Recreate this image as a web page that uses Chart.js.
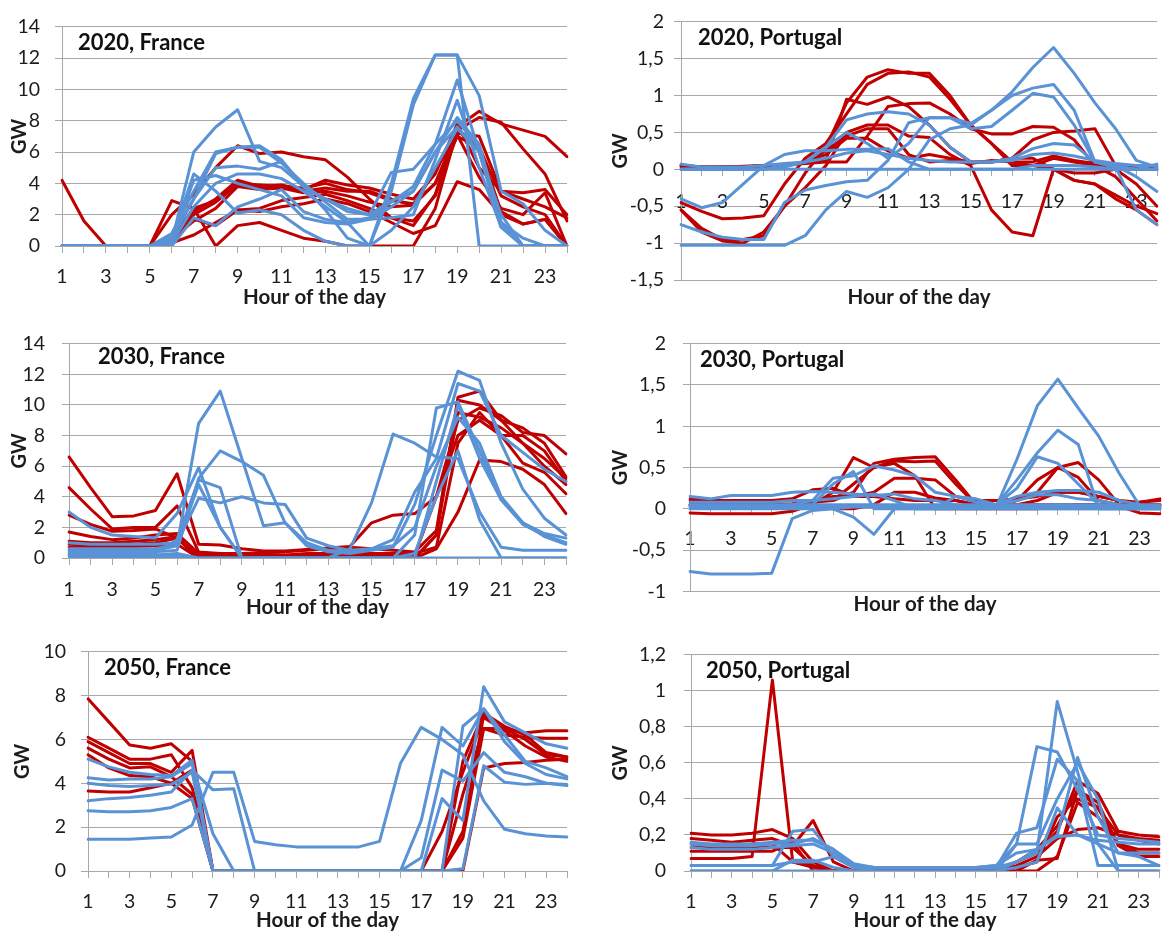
<!DOCTYPE html>
<html><head><meta charset="utf-8">
<script src="https://cdn.jsdelivr.net/npm/chart.js@4.4.1/dist/chart.umd.min.js"></script>
<style>
html,body{margin:0;padding:0;background:#fff;width:1172px;height:933px;overflow:hidden;position:relative;}
canvas{position:absolute;}
</style></head><body>
<script>
const hours = [1,2,3,4,5,6,7,8,9,10,11,12,13,14,15,16,17,18,19,20,21,22,23,24];

const fr2020Red = [
 [4.2,1.6,0,0,0,0.6, 2.2,3.0,4.2,3.8,3.9,3.6, 4.2,3.9,3.7,3.3,3.0,4.6, 7.8,5.0,3.5,3.4,3.6,2.0],
 [0,0,0,0,0,0.3, 2.0,2.8,3.9,3.7,3.8,3.7, 4.0,3.6,3.4,2.9,2.7,4.0, 7.4,6.3,3.2,2.5,2.0,0],
 [0,0,0,0,0,0.2, 0.7,1.5,2.3,2.4,2.9,3.1, 3.3,2.9,2.4,1.8,1.6,3.2, 7.1,4.4,2.4,2.0,3.4,0],
 [0,0,0,0,0,2.0, 3.3,5.0,6.4,5.9,6.0,5.7, 5.5,4.4,3.0,1.8,1.3,3.3, 7.6,8.6,7.8,7.4,7.0,5.7],
 [0,0,0,0,0,2.9, 2.4,0,1.3,1.5,1.0,0.5, 0.3,0,0,0,0,2.4, 7.4,8.2,7.9,6.2,4.6,1.6],
 [0,0,0,0,0,0.4, 1.6,2.4,3.8,3.6,3.7,3.4, 3.5,3.2,2.8,2.5,2.6,4.0, 7.0,6.3,2.2,1.4,1.7,0],
 [0,0,0,0,0,0.3, 1.7,1.3,2.3,2.2,2.5,2.7, 3.0,2.7,2.2,1.5,0.8,1.3, 4.1,3.6,2.0,1.4,1.7,0],
 [0,0,0,0,0,0.5, 2.4,2.9,4.0,3.9,3.8,3.5, 3.7,3.5,3.5,3.0,2.6,4.8, 7.2,7.0,3.5,3.0,2.5,1.8]
];
const fr2020Blue = [
 [0,0,0,0,0,0.3, 6.0,7.6,8.7,5.4,5.0,3.8, 3.0,2.2,2.0,4.7,4.9,6.5, 8.0,6.3,1.5,0,0,0],
 [0,0,0,0,0,0.5, 4.6,3.5,2.1,2.3,2.0,1.0, 0.3,0,0,1.0,2.5,5.0, 7.5,6.0,1.2,0,0,0],
 [0,0,0,0,0,0.8, 3.5,6.0,6.3,6.4,5.5,3.8, 3.0,2.4,2.0,2.9,3.5,6.0, 8.2,6.5,1.5,0,0,0],
 [0,0,0,0,0,0.5, 3.0,5.0,5.1,4.9,5.4,3.8, 2.3,0.5,0,4.0,9.4,12.2, 12.2,9.6,3.5,2.7,1.0,0],
 [0,0,0,0,0,0.2, 2.5,4.0,4.6,4.6,4.3,3.5, 2.5,1.5,0,3.5,9.0,12.2, 12.2,0,0,0,0,0],
 [0,0,0,0,0,0, 1.8,1.3,2.5,3.0,3.6,2.2, 1.7,1.5,1.8,2.8,3.8,6.5, 10.6,6.0,2.0,0,0,0],
 [0,0,0,0,0,0.3, 4.2,4.5,4.0,3.6,3.2,1.8, 1.5,1.4,1.7,1.8,2.0,5.5, 9.3,5.0,1.2,0,0,0],
 [0,0,0,0,0,0.6, 3.0,5.9,6.3,6.3,5.3,4.0, 2.8,1.7,1.7,2.5,3.5,6.0, 7.6,6.0,1.5,0.5,0,0]
];

const pt2020Red = [
 [-0.55,-0.8,-0.95,-0.95,-0.9,-0.5, -0.05,0.3,0.9,1.25,1.35,1.3, 1.3,1.0,0.6,0.35,0.05,0.05, 0.15,0.1,0.05,-0.1,-0.4,-0.7],
 [-0.45,-0.57,-0.67,-0.66,-0.63,-0.2, 0.15,0.35,0.75,1.15,1.3,1.32, 1.25,0.95,0.6,0.35,0.1,0.05, 0,-0.15,-0.2,-0.4,-0.55,-0.75],
 [0.05,0.03,0.03,0.03,0.05,0.05, 0.1,0.12,0.95,0.88,0.98,0.85, 0.6,0.3,0.1,0.1,0.15,0.4, 0.5,0.52,0.55,0.05,0,0],
 [0.05,0.03,0.03,0.04,0.05,0.06, 0.08,0.1,0.1,0.45,0.85,0.89, 0.9,0.75,0.55,0.48,0.48,0.58, 0.57,0.4,0.05,0,-0.2,-0.5],
 [-0.55,-0.85,-0.97,-1.0,-0.85,-0.5, -0.25,0.05,0.5,0.6,0.6,0.45, 0.43,0.2,0.05,-0.55,-0.85,-0.9, 0.0,-0.15,-0.2,-0.35,-0.5,-0.6],
 [0.05,0.03,0.03,0.03,0.05,0.05, 0.1,0.2,0.42,0.42,0.25,0.15, 0.2,0.15,0.1,0.1,0.15,0.15, 0.0,-0.05,-0.05,0,0,0],
 [0.03,0.02,0.03,0.03,0.03,0.05, 0.1,0.25,0.45,0.55,0.55,0.2, 0.1,0.12,0.08,0.12,0.1,0.1, 0.18,0.12,0.08,0.05,0.03,0.03]
];
const pt2020Blue = [
 [-1.03,-1.03,-1.03,-1.03,-1.03,-1.03, -0.9,-0.55,-0.3,-0.38,-0.25,0.0, 0.4,0.55,0.6,0.8,1.05,1.38, 1.65,1.3,0.9,0.55,0.12,0.03],
 [-0.75,-0.85,-0.92,-0.95,-0.95,-0.45, -0.28,-0.22,-0.17,-0.15,0.12,0.63, 0.7,0.7,0.62,0.8,1.0,1.1, 1.15,0.8,0.1,0.03,-0.55,-0.75],
 [-0.4,-0.52,-0.45,-0.2,0.05,0.2, 0.25,0.25,0.27,0.27,0.28,0.1, 0.0,0.0,0.0,0.0,0.0,0.05, 0.05,0.05,0.03,0.0,0.0,0.0],
 [0.07,0.03,0.03,0.03,0.05,0.08, 0.1,0.3,0.67,0.75,0.78,0.75, 0.6,0.3,0.1,0.1,0.12,0.2, 0.22,0.18,0.12,0.08,0.05,0.05],
 [0,0,0,0,0,0.05, 0.1,0.3,0.5,0.35,0.15,0.35, 0.7,0.7,0.55,0.58,0.8,1.03, 0.98,0.6,0.1,0.05,0,0],
 [0,0,0,0,0,0.03, 0.1,0.15,0.22,0.25,0.2,0.15, 0.12,0.1,0.1,0.1,0.15,0.28, 0.35,0.33,0.1,0.05,-0.1,-0.3],
 [0,0,0,0,0,0, 0,0,0,0,0,0, 0,0,0,0,0,0, 0,0,0,0,0,0.07]
];

const fr2030Red = [
 [6.6,4.6,2.7,2.75,3.1,5.5, 0.9,0.85,0.6,0.45,0.45,0.55, 0.65,0.75,2.3,2.8,2.9,4.0, 9.0,9.8,9.3,8.2,8.0,6.8],
 [4.6,3.2,1.9,2.0,2.0,3.4, 0.4,0.3,0.3,0.35,0.4,0.5, 0.6,0.7,0.6,0.5,0.4,1.8, 10.3,10.0,9.0,8.5,7.5,5.3],
 [2.8,2.2,1.75,1.8,1.9,1.3, 0,0,0,0,0,0, 0,0,0,0,0,0.6, 3.0,6.4,6.3,5.8,4.8,2.9],
 [1.7,1.4,1.2,1.3,1.5,1.6, 0.3,0.2,0.2,0.2,0.2,0.3, 0.3,0.3,0.3,0.3,0.3,0.7, 7.5,9.5,8.0,8.0,7.0,5.0],
 [0.9,0.85,0.8,0.9,1.0,1.3, 0,0,0,0,0,0, 0,0,0,0,0,1.5, 9.5,9.2,8.5,7.5,6.0,4.8],
 [1.1,1.0,1.0,1.1,1.2,1.4, 0.2,0.1,0.1,0.1,0.1,0.1, 0.1,0.1,0.1,0.1,0.2,4.0, 8.0,9.0,8.0,6.2,5.6,4.2],
 [0.7,0.7,0.7,0.75,0.8,0.9, 0,0,0,0,0,0, 0,0,0,0,0,1.5, 10.5,10.9,9.0,7.5,6.5,5.2]
];
const fr2030Blue = [
 [3.0,2.0,1.5,1.4,1.3,2.9, 5.9,2.0,0,0,0,0, 0,0,0,0,0,5.0, 10.0,6.5,3.8,2.2,1.5,1.0],
 [0.5,0.5,0.5,0.5,0.5,0.8, 8.8,10.9,6.5,2.1,2.3,0.8, 0.4,0.3,0.5,0.7,3.5,8.0, 12.2,11.6,7.5,4.5,2.6,1.5],
 [0.4,0.4,0.4,0.4,0.4,0.5, 5.2,7.0,6.3,5.4,2.3,1.0, 0.5,0.4,0.6,1.2,4.3,6.5, 11.4,10.9,8.0,6.9,5.8,5.0],
 [1.0,0.9,0.9,0.9,0.9,1.0, 3.9,3.6,4.0,3.6,3.5,1.3, 0.8,0.5,0.6,0.8,2.0,6.0, 9.2,7.5,4.0,2.3,1.4,0.9],
 [0.3,0.3,0.3,0.3,0.3,1.2, 5.1,4.6,0,0,0,0, 0,0.6,3.6,8.1,7.5,6.6, 6.5,3.0,0.7,0.5,0.5,0.5],
 [0.2,0.2,0.2,0.2,0.2,0.3, 0,0,0,0,0,0, 0,0,0,0,0.3,4.0, 7.0,2.5,0,0,0,0],
 [0.6,0.6,0.6,0.6,0.6,0.9, 4.8,2.0,0,0,0,0, 0,0,0,0,1.5,9.8, 10.2,7.0,3.8,2.3,1.6,1.3],
 [0.1,0.1,0.1,0.1,0.1,0.1, 0,0,0,0,0,0, 0,0,0,0,0,0, 0,0,0,0,0,0]
];

const pt2030Red = [
 [-0.05,-0.06,-0.06,-0.06,-0.06,-0.03, 0.05,0.2,0.62,0.5,0.55,0.4, 0,0,0,0,0,0, 0.02,0.05,0.05,0.03,-0.05,-0.06],
 [0.1,0.1,0.1,0.1,0.1,0.1, 0.1,0.1,0.2,0.55,0.6,0.62, 0.63,0.35,0.05,0.05,0.1,0.35, 0.5,0.38,0.1,0.05,0.05,0.05],
 [0.05,0.05,0.05,0.05,0.05,0.06, 0.08,0.1,0.3,0.5,0.58,0.57, 0.58,0.3,0.05,0.05,0.1,0.2, 0.5,0.56,0.35,0.05,0.05,0.05],
 [0.12,0.1,0.1,0.1,0.1,0.12, 0.23,0.25,0.15,0.2,0.37,0.37, 0.35,0.15,0.1,0.1,0.12,0.15, 0.2,0.2,0.15,0.1,0.08,0.1],
 [0.05,0.05,0.05,0.05,0.05,0.05, 0.05,0,0,0.05,0.2,0.2, 0.13,0.1,0.05,0.05,0.05,0.1, 0.2,0.2,0.15,0.1,0.05,0.05],
 [0.05,0.05,0.05,0.05,0.05,0.05, 0.08,0.15,0.15,0.15,0.12,0.1, 0.1,0.1,0.05,0.03,0.05,0.05, 0.05,0.05,0.05,0.05,0.08,0.12]
];
const pt2030Blue = [
 [-0.76,-0.79,-0.79,-0.79,-0.78,-0.12, -0.02,0,0.02,0.02,0.02,0.02, 0.02,0.02,0.02,0.02,0.02,0.03, 0.03,0.03,0.03,0.03,0.03,0.03],
 [0.03,0.03,0.03,0.03,0.03,0.03, 0.03,0.03,0.03,0.03,0.03,0.03, 0.03,0.03,0.03,0.03,0.6,1.25, 1.57,1.22,0.88,0.43,0.04,0.03],
 [0.03,0.03,0.03,0.03,0.03,0.03, 0.03,0.03,0.03,0.03,0.03,0.03, 0.03,0.03,0.03,0.05,0.35,0.68, 0.95,0.78,0,0,0,0],
 [0.05,0.05,0.05,0.05,0.05,0.05, 0.05,0.05,0.05,0.05,0.05,0.05, 0.05,0.05,0.05,0.05,0.25,0.63, 0.55,0.3,0.05,0.03,0.03,0.03],
 [0.03,0.03,0.03,0.03,0.03,0.05, 0.1,0.37,0.4,0.52,0.47,0.4, 0.2,0.15,0.08,0.05,0.05,0.05, 0.05,0.05,0.05,0.05,0.03,0.03],
 [0.03,0.03,0.03,0.03,0.03,0.03, 0.05,0.3,0.45,0,0,0, 0,0,0,0,0,0, 0,0,0,0,0,0],
 [0,0,0,0,0,0, 0,0,-0.1,-0.31,0,0, 0,0,0,0,0,0, 0,0,0,0,0,0],
 [0.15,0.12,0.16,0.16,0.16,0.2, 0.21,0.2,0.18,0.16,0.18,0.12, 0.1,0.05,0.02,0.05,0.15,0.2, 0.22,0.22,0.2,0.1,0.05,0.05],
 [0.08,0.08,0.08,0.08,0.08,0.1, 0.1,0.12,0.15,0.18,0.1,0, 0,0.15,0.12,0.05,0.1,0.17, 0.17,0.12,0.1,0.05,0.03,0.03]
];

const fr2050Red = [
 [7.85,6.8,5.75,5.6,5.8,5.0, 0,0,0,0,0,0, 0,0,0,0,0,0, 5.0,7.2,6.6,6.2,5.4,5.2],
 [6.1,5.6,5.1,5.1,5.3,3.8, 0,0,0,0,0,0, 0,0,0,0,0,1.8, 4.5,7.0,6.4,5.7,5.2,5.0],
 [5.9,5.4,4.9,4.9,4.5,5.5, 0,0,0,0,0,0, 0,0,0,0,0,0, 1.5,6.5,6.5,6.3,6.4,6.4],
 [5.6,5.1,4.7,4.75,4.3,3.5, 0,0,0,0,0,0, 0,0,0,0,0,0, 0,4.7,4.9,4.95,5.05,5.1],
 [5.3,4.7,4.35,4.3,4.0,3.3, 0,0,0,0,0,0, 0,0,0,0,0,0, 3.5,6.5,6.2,6.1,6.05,6.05],
 [3.65,3.6,3.6,3.8,4.0,4.6, 0,0,0,0,0,0, 0,0,0,0,0,0, 1.8,7.1,6.5,6.0,5.3,5.2]
];
const fr2050Blue = [
 [5.1,4.75,4.5,4.4,4.35,5.05, 0,0,0,0,0,0, 0,0,0,0,0,0, 6.6,7.4,5.9,4.9,4.4,4.2],
 [4.25,4.15,4.2,4.2,4.3,4.9, 1.7,0,0,0,0,0, 0,0,0,0,2.3,6.55, 5.7,7.4,6.2,5.0,4.7,4.3],
 [4.0,3.9,3.85,3.9,3.95,4.5, 0,0,0,0,0,0, 0,0,0,0,0.6,4.6, 4.1,5.4,4.5,4.3,4.0,3.9],
 [1.45,1.45,1.45,1.5,1.55,2.1, 4.5,4.5,1.35,1.2,1.1,1.1, 1.1,1.1,1.35,4.9,6.55,6.0, 5.3,3.2,1.9,1.7,1.6,1.55],
 [2.75,2.7,2.7,2.75,2.9,3.3, 0,0,0,0,0,0, 0,0,0,0,0,3.3, 2.3,8.4,6.8,6.3,5.8,5.6],
 [3.2,3.3,3.35,3.45,3.6,4.6, 3.7,3.75,0,0,0,0, 0,0,0,0,0,0, 0.1,4.8,4.05,3.95,4.0,3.95]
];

const pt2050Red = [
 [0.07,0.07,0.07,0.08,1.06,0.05, 0.02,0,0,0,0,0, 0,0,0,0,0,0.06, 0.07,0.45,0.38,0.14,0.08,0.08],
 [0.21,0.2,0.2,0.21,0.23,0.18, 0.05,0,0,0,0,0, 0,0,0,0,0.05,0.1, 0.22,0.5,0.43,0.22,0.2,0.19],
 [0.18,0.17,0.16,0.17,0.18,0.14, 0.28,0.05,0,0,0,0, 0,0,0,0,0.02,0.05, 0.3,0.4,0.35,0.2,0.18,0.17],
 [0.15,0.14,0.14,0.15,0.15,0.05, 0.03,0,0,0,0,0, 0,0,0,0,0,0, 0.08,0.38,0.3,0.15,0.1,0.1],
 [0.11,0.11,0.11,0.11,0.11,0.16, 0,0,0,0,0,0, 0,0,0,0,0.03,0.08, 0.18,0.23,0.24,0.2,0.17,0.15],
 [0.13,0.13,0.13,0.13,0.13,0.13, 0.03,0,0,0,0,0, 0,0,0,0,0.05,0.12, 0.25,0.45,0.35,0.15,0.12,0.12]
];
const pt2050Blue = [
 [0.16,0.15,0.15,0.15,0.16,0.17, 0.17,0.12,0.04,0.02,0.02,0.02, 0.02,0.02,0.02,0.03,0.15,0.69, 0.66,0.45,0.2,0.18,0.17,0.16],
 [0.03,0.03,0.03,0.03,0.03,0.22, 0.23,0.08,0.02,0.02,0.02,0.02, 0.02,0.02,0.02,0.02,0.21,0.24, 0.62,0.5,0.03,0.03,0.03,0.03],
 [0,0,0,0,0,0.06, 0.06,0.02,0,0,0,0, 0,0,0,0,0.05,0.1, 0.94,0.55,0.15,0,0,0],
 [0.15,0.14,0.14,0.14,0.15,0.15, 0.18,0.12,0.03,0.02,0.02,0.02, 0.02,0.02,0.02,0.03,0.1,0.12, 0.2,0.63,0.3,0.1,0.08,0.03],
 [0.03,0.03,0.03,0.03,0.03,0.05, 0.05,0.08,0.02,0,0,0, 0,0,0,0,0.15,0.15, 0.4,0.6,0.4,0,0,0],
 [0.13,0.12,0.12,0.12,0.13,0.14, 0.15,0.1,0.03,0.02,0.02,0.02, 0.02,0.02,0.02,0.02,0.05,0.12, 0.19,0.2,0.17,0.16,0.15,0.15],
 [0,0,0,0,0,0, 0,0,0,0,0,0, 0,0,0,0,0.02,0.05, 0.35,0.2,0.15,0.1,0.1,0.1]
];

const panelTitles = ['2020, France','2020, Portugal','2030, France','2030, Portugal','2050, France','2050, Portugal'];
const xTitle = 'Hour of the day';
const yTitle = 'GW';

const RED = '#C00000', BLUE = '#5A92D6', GRID = '#A8A8A8', TXT = '#1c1c1c';
const FONT = 'Lato, "Open Sans", "DejaVu Sans", sans-serif';

function fmt(v){ return (Math.round(v*100)/100).toString().replace('.', ','); }

const panelLabel = {
  id: 'panelLabel',
  afterDatasetsDraw(chart, args, o) {
    const {ctx, chartArea} = chart;
    ctx.save();
    ctx.font = 'bold 22px ' + FONT;
    ctx.fillStyle = '#111';
    ctx.textBaseline = 'middle';
    ctx.textAlign = 'left';
    ctx.fillText(o.text, chartArea.left + o.dx, chartArea.top + o.dy);
    ctx.restore();
  }
};

const panels = [
 {left:0,   top:0,   w:580, h:312, yw:62,  padTop:17, padRight:11, x2h:66, tp:2.7, gw:8,  ypad:15, xpad:13, dx:16, dy:16, min:0, max:14, step:2,  red:fr2020Red, blue:fr2020Blue},
 {left:590, top:0,   w:582, h:312, yw:91,  padTop:17, padRight:0,  x2h:32, tp:2.7, gw:19, ypad:10, xpad:15, dx:17, dy:16, min:-1.5, max:2, step:0.5, red:pt2020Red, blue:pt2020Blue},
 {left:0,   top:315, w:580, h:305, yw:69,  padTop:15, padRight:9,  x2h:62, tp:0.7, gw:8,  ypad:17, xpad:14, dx:29, dy:13, min:0, max:14, step:2,  red:fr2030Red, blue:fr2030Blue},
 {left:590, top:315, w:582, h:305, yw:100, padTop:12, padRight:0,  x2h:26, tp:0.7, gw:19, ypad:17, xpad:12, dx:10, dy:16, min:-1, max:2, step:0.5, red:pt2030Red, blue:pt2030Blue},
 {left:0,   top:625, w:580, h:308, yw:88,  padTop:17, padRight:9,  x2h:62, tp:0.7, gw:11, ypad:15, xpad:13, dx:16, dy:16, min:0, max:10, step:2,  red:fr2050Red, blue:fr2050Blue},
 {left:590, top:625, w:582, h:308, yw:101, padTop:17, padRight:2,  x2h:62, tp:0.7, gw:19, ypad:18, xpad:13, dx:15, dy:16, min:0, max:1.2, step:0.2, red:pt2050Red, blue:pt2050Blue}
];

panels.forEach((p, k) => {
  const cv = document.createElement('canvas');
  cv.width = p.w; cv.height = p.h;
  cv.style.left = p.left + 'px'; cv.style.top = p.top + 'px';
  cv.style.width = p.w + 'px'; cv.style.height = p.h + 'px';
  document.body.appendChild(cv);
  const line = c => ({borderColor: c, borderWidth: 3, pointRadius: 0, tension: 0, fill: false,
                      borderJoinStyle: 'round', borderCapStyle: 'round', xAxisID: 'x', yAxisID: 'y'});
  const datasets = [];
  p.blue.forEach(d => datasets.push(Object.assign({data: d}, line(BLUE))));
  p.red.forEach(d => datasets.push(Object.assign({data: d}, line(RED))));
  new Chart(cv, {
    type: 'line',
    data: {labels: hours, datasets},
    options: {
      responsive: false, animation: false, devicePixelRatio: 1,
      events: [],
      layout: {padding: {left: 0, top: p.padTop, right: p.padRight, bottom: 0}},
      plugins: {legend: {display: false}, tooltip: {enabled: false},
                panelLabel: {text: panelTitles[k], dx: p.dx, dy: p.dy}},
      scales: {
        x: {type: 'category', position: {y: 0}, offset: false,
            grid: {display: true, drawOnChartArea: false, drawTicks: true, tickLength: 6, color: GRID, lineWidth: 1},
            border: {display: true, color: GRID, width: 1},
            ticks: {autoSkip: false, maxRotation: 0, minRotation: 0, padding: p.xpad, color: TXT,
                    font: {family: FONT, size: 19.5},
                    callback: (v, i) => (i % 2 === 0 ? String(hours[i]) : '')}},
        x2: {type: 'category', axis: 'x', position: 'bottom', offset: false,
             grid: {display: false}, border: {display: false}, ticks: {display: false},
             title: {display: true, text: xTitle, color: TXT,
                     font: {family: FONT, size: 20.5, weight: 'bold', lineHeight: 1.2},
                     padding: {top: 0, bottom: p.tp}},
             afterFit: s => { s.height = p.x2h; }},
        y: {type: 'linear', position: 'left', min: p.min, max: p.max,
            ticks: {stepSize: p.step, callback: fmt, padding: p.ypad, color: TXT,
                    font: {family: FONT, size: 19.5}},
            grid: {color: GRID, lineWidth: 1, tickLength: 7, drawTicks: true},
            border: {display: true, color: GRID, width: 1},
            title: {display: true, text: yTitle, color: TXT,
                    font: {family: FONT, size: 20, weight: 'bold', lineHeight: 1.2},
                    padding: {top: p.gw, bottom: 0}},
            afterFit: s => { s.width = p.yw; }}
      }
    },
    plugins: [panelLabel]
  });
});
</script>
</body></html>
